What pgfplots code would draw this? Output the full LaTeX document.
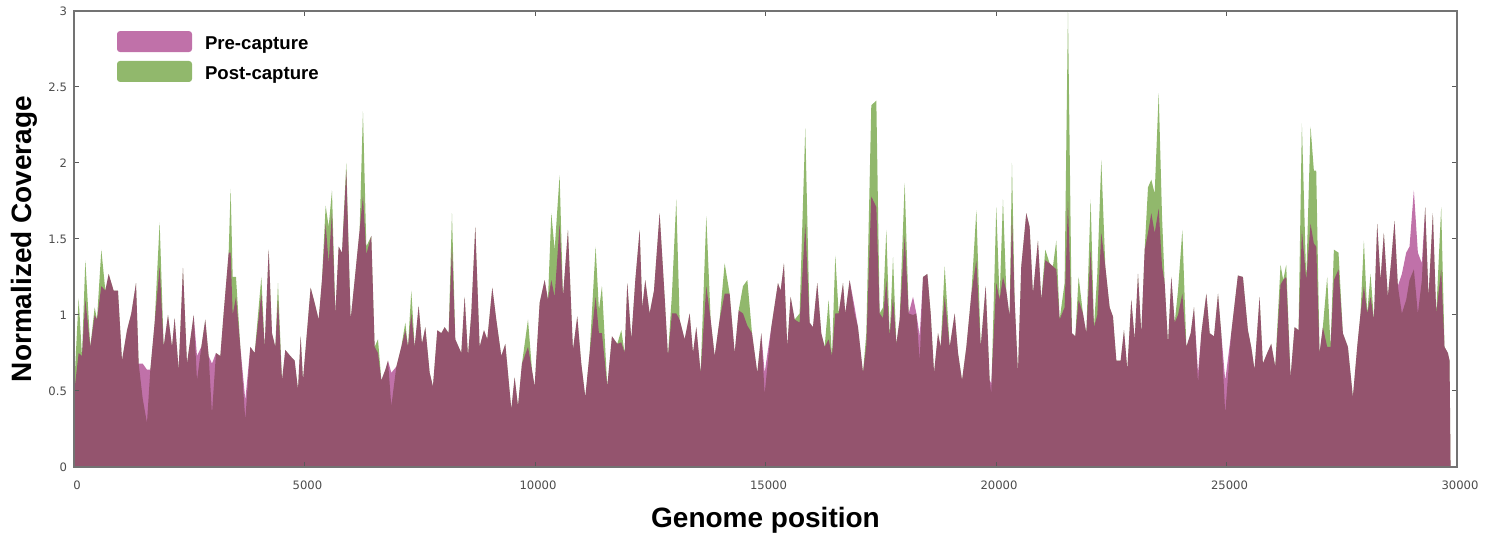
\documentclass[border=0pt]{standalone}
\usepackage{fontspec}
\setmainfont{Liberation Sans}
\newfontfamily\tickfont{DejaVu Sans}
\usepackage{pgfplots}
\usepackage{pgfplotstable}
\pgfplotsset{compat=1.18}

\definecolor{postgreen}{RGB}{145,184,108}
\definecolor{prepink}{RGB}{150,18,112}

% columns: genome position, post-capture, pre-capture
\pgfplotstableread{
x post pre
0 0.50 0.48
101 1.11 0.75
173 0.73 0.73
246 1.36 1.10
354 0.79 0.79
448 1.05 1.00
499 0.97 0.97
593 1.43 1.19
680 1.16 1.16
752 1.27 1.27
860 1.16 1.16
954 1.16 1.16
1041 0.70 0.70
1150 0.90 0.90
1243 1.01 1.01
1345 1.21 1.21
1403 0.68 0.68
1490 0.45 0.68
1583 0.29 0.64
1656 0.64 0.64
1750 0.95 0.95
1858 1.61 1.32
1945 0.79 0.79
2039 1.00 1.00
2126 0.79 0.79
2183 0.98 0.98
2270 0.64 0.64
2364 1.31 1.31
2451 0.68 0.68
2596 1.00 1.00
2668 0.57 0.73
2762 0.79 0.79
2848 0.97 0.97
2921 0.73 0.73
2993 0.35 0.68
3080 0.75 0.75
3174 0.73 0.73
3246 1.01 1.01
3355 1.41 1.41
3398 1.83 1.41
3442 1.25 1.00
3514 1.25 1.12
3608 0.79 0.79
3716 0.31 0.44
3825 0.79 0.79
3919 0.75 0.75
4064 1.25 1.14
4136 0.79 0.79
4223 1.43 1.43
4295 0.88 0.88
4367 0.79 0.79
4425 1.21 1.10
4512 0.57 0.57
4584 0.77 0.77
4693 0.73 0.73
4786 0.70 0.70
4859 0.51 0.51
4917 0.86 0.86
4967 0.57 0.57
5133 1.18 1.18
5220 1.08 1.08
5307 0.97 0.97
5379 1.23 1.23
5459 1.72 1.60
5524 1.58 1.34
5596 1.82 1.67
5669 1.01 1.01
5741 1.45 1.45
5813 1.41 1.41
5907 2.00 1.95
6001 0.97 0.97
6088 1.23 1.23
6196 1.56 1.56
6268 2.34 1.78
6341 1.45 1.40
6449 1.52 1.52
6522 0.79 0.79
6594 0.84 0.75
6667 0.57 0.57
6754 0.64 0.64
6811 0.70 0.70
6883 0.40 0.62
6992 0.66 0.66
7100 0.79 0.79
7187 0.95 0.90
7245 0.79 0.79
7317 1.16 1.01
7389 0.79 0.79
7476 1.06 1.06
7548 0.81 0.81
7621 0.92 0.92
7715 0.62 0.62
7786 0.53 0.53
7881 0.90 0.90
7968 0.88 0.88
8040 0.92 0.92
8127 0.88 0.88
8199 1.67 1.45
8271 0.84 0.84
8401 0.75 0.75
8474 1.12 1.12
8546 0.73 0.73
8618 1.01 1.01
8705 1.58 1.58
8799 0.79 0.79
8893 0.90 0.90
8965 0.84 0.84
9074 1.18 1.18
9160 0.97 0.97
9269 0.73 0.73
9356 0.81 0.81
9486 0.38 0.38
9558 0.59 0.59
9631 0.40 0.40
9717 0.68 0.68
9848 0.97 0.79
9934 0.64 0.64
9992 0.53 0.53
10101 1.08 1.08
10209 1.23 1.23
10281 1.10 1.10
10354 1.67 1.23
10426 1.43 1.12
10534 1.92 1.60
10607 1.12 1.12
10715 1.56 1.56
10823 0.77 0.77
10917 0.99 0.99
11004 0.68 0.68
11091 0.46 0.46
11185 0.75 0.75
11315 1.45 1.12
11387 1.03 0.88
11452 1.19 0.88
11568 0.53 0.53
11669 0.86 0.86
11785 0.81 0.81
11872 0.90 0.82
11944 0.75 0.75
12002 1.21 1.21
12089 0.84 0.84
12176 1.23 1.23
12270 1.56 1.56
12327 1.05 1.05
12392 1.23 1.23
12486 1.01 1.01
12581 1.16 1.16
12703 1.67 1.67
12812 1.12 1.12
12884 0.73 0.73
12971 1.14 1.01
13065 1.76 1.01
13137 0.97 0.97
13246 0.84 0.84
13355 1.01 1.01
13427 0.75 0.75
13499 0.92 0.92
13593 0.62 0.62
13716 1.65 1.19
13810 0.97 0.97
13897 0.73 0.73
14005 0.97 0.97
14114 1.34 1.14
14222 1.14 1.14
14331 0.75 0.75
14418 1.03 1.03
14512 1.19 1.01
14606 1.23 0.93
14707 0.88 0.88
14822 0.62 0.62
14909 0.88 0.88
14981 0.48 0.62
15126 0.92 0.92
15270 1.21 1.21
15328 1.16 1.16
15400 1.34 1.34
15472 0.79 0.79
15545 1.12 1.12
15632 0.97 0.97
15740 1.01 0.95
15863 2.23 1.60
15957 0.95 0.95
16029 0.92 0.92
16123 1.21 1.21
16210 0.88 0.88
16283 0.79 0.79
16369 1.10 0.84
16442 0.73 0.73
16514 1.39 1.01
16587 1.01 1.01
16681 1.21 1.21
16731 1.01 1.01
16825 1.23 1.23
16934 1.01 1.05
17006 0.92 0.92
17115 0.62 0.62
17187 0.88 0.80
17295 2.38 1.78
17404 2.41 1.71
17476 1.01 1.01
17549 1.05 0.98
17621 1.56 1.23
17694 0.86 0.86
17766 1.38 1.12
17838 0.81 0.81
17910 0.97 0.97
18019 1.87 1.52
18106 1.01 1.01
18200 1.00 1.12
18272 1.01 1.01
18345 0.70 0.86
18417 1.25 1.25
18511 1.27 1.27
18583 1.01 1.01
18656 0.62 0.62
18742 0.88 0.88
18800 0.79 0.79
18887 1.32 1.12
18996 0.79 0.79
19104 1.01 1.01
19176 0.75 0.75
19263 0.57 0.57
19357 0.79 0.79
19466 1.14 1.14
19574 1.69 1.36
19668 0.79 0.79
19776 1.19 1.19
19863 0.57 0.57
19897 0.48 0.55
20006 1.71 1.21
20078 1.10 1.10
20151 1.76 1.25
20223 1.16 1.16
20295 0.99 0.99
20346 2.00 1.65
20404 1.10 1.10
20476 0.62 0.62
20548 1.32 1.32
20657 1.67 1.67
20729 1.58 1.58
20801 1.14 1.14
20910 1.49 1.49
20982 1.10 1.10
21069 1.43 1.36
21163 1.34 1.34
21235 1.32 1.32
21308 1.49 1.30
21380 0.97 0.97
21488 1.21 1.05
21561 3.00 1.75
21647 0.88 0.88
21720 0.86 0.86
21792 1.25 1.10
21886 1.01 1.01
21959 0.88 0.88
22053 1.76 1.43
22125 0.92 0.92
22197 1.27 1.00
22284 2.02 1.54
22371 1.32 1.32
22465 1.05 1.05
22537 0.99 0.99
22610 0.70 0.70
22704 0.70 0.70
22776 0.90 0.90
22848 0.64 0.64
22935 1.10 1.10
23008 0.84 0.84
23080 1.27 1.27
23152 0.88 0.88
23225 1.43 1.43
23297 1.84 1.54
23369 1.89 1.67
23442 1.80 1.54
23529 2.46 1.70
23601 1.65 1.32
23659 1.21 1.21
23731 0.81 0.81
23803 1.25 1.25
23876 0.95 0.95
23948 1.16 1.00
24042 1.56 1.14
24129 0.79 0.79
24223 0.88 0.88
24295 1.05 1.05
24382 0.55 0.62
24454 0.88 0.88
24563 1.14 1.14
24635 0.88 0.88
24729 0.86 0.86
24816 1.14 1.14
24886 0.88 0.88
24972 0.35 0.57
25102 0.88 0.88
25247 1.26 1.26
25356 1.25 1.25
25464 0.90 0.90
25536 0.79 0.79
25608 0.64 0.64
25717 1.12 1.12
25789 0.68 0.68
25883 0.75 0.75
25970 0.81 0.81
26057 0.66 0.66
26172 1.33 1.20
26230 1.23 1.23
26295 1.33 1.25
26389 0.59 0.59
26476 0.92 0.92
26563 0.90 0.90
26635 2.26 1.56
26729 1.23 1.23
26823 2.24 1.60
26895 1.95 1.47
26946 1.95 1.45
27018 0.75 0.75
27090 0.92 0.92
27184 1.25 0.79
27257 0.79 0.79
27329 1.43 1.23
27430 1.41 1.30
27524 0.88 0.88
27633 0.79 0.79
27741 0.46 0.46
27835 0.79 0.79
27907 1.01 1.01
27980 1.49 1.19
28052 1.01 1.01
28124 1.27 1.12
28197 0.97 0.97
28269 1.60 1.60
28341 1.23 1.23
28413 1.54 1.54
28500 1.12 1.12
28573 1.36 1.36
28645 1.62 1.62
28717 1.19 1.19
28804 1.01 1.27
28898 1.10 1.41
28970 1.23 1.45
29064 1.30 1.82
29151 1.01 1.41
29238 1.23 1.34
29310 1.71 1.71
29382 1.12 1.12
29476 1.67 1.67
29549 1.01 1.01
29657 1.71 1.30
29729 0.79 0.79
29802 0.75 0.75
29838 0.70 0.70
29860 0 0
}\coverage

\begin{document}
\begin{tikzpicture}
\begin{axis}[
    scale only axis,
    width=691.5pt,
    height=228pt,
    xmin=0, xmax=30000,
    ymin=0, ymax=3,
    xtick={0,5000,...,30000},
    ytick={0,0.5,1,1.5,2,2.5,3},
    scaled x ticks=false,
    /pgf/number format/1000 sep={},
    /pgf/number format/assume math mode=true,
    tick pos=both,
    tick align=inside,
    major tick length=2.5pt,
    tick style={black!65, line width=0.5pt},
    axis line style={black!55, line width=0.6pt},
    axis on top,
    tick label style={font=\tickfont\fontsize{5.8}{6}\selectfont, text=black!70},
    xticklabel style={yshift=-3.5pt, xshift=1.5pt},
    yticklabel style={xshift=0pt},
    xlabel={Genome position},
    ylabel={Normalized Coverage},
    label style={font=\bfseries\fontsize{14}{16}\selectfont},
    xlabel style={at={(axis description cs:0.5,-0.116)}, anchor=center},
    ylabel style={at={(axis description cs:-0.0362,0.5)}, anchor=center},
    legend cell align=left,
    legend image code/.code={\fill[#1, rounded corners=1.5pt] (0pt,-3.5pt) rectangle (37.5pt,7pt);},
    legend style={at={(axis description cs:0.0311,0.956)}, anchor=north west,
        draw=none, fill=none, inner sep=0pt, outer sep=0pt,
        row sep=4pt, column sep=6.5pt,
        nodes={inner sep=0pt, font=\bfseries\fontsize{9.3}{11}\selectfont}},
]
\addlegendimage{fill=prepink, fill opacity=0.6, draw=none}
\addlegendentry{Pre-capture}
\addlegendimage{fill=postgreen, draw=none}
\addlegendentry{Post-capture}
\addplot[fill=postgreen, draw=none, forget plot] table[x=x, y=post] {\coverage} \closedcycle;
\addplot[fill=prepink, fill opacity=0.6, draw=none, forget plot] table[x=x, y=pre] {\coverage} \closedcycle;
\end{axis}
\pgfresetboundingbox
\path ([shift={(-37pt,-35.5pt)}]current axis.south west) rectangle ([shift={(17.5pt,5.5pt)}]current axis.north east);
\end{tikzpicture}
\end{document}
